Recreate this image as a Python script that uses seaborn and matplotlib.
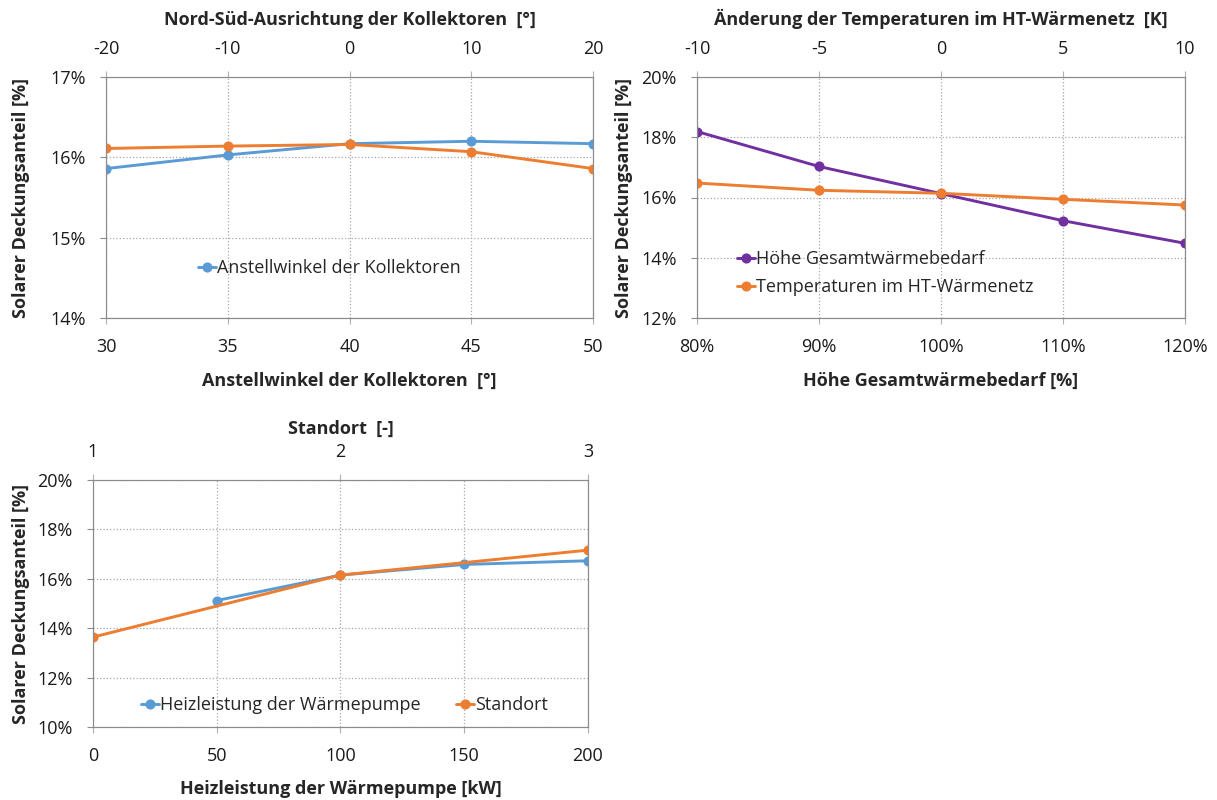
import numpy as np
import pandas as pd
import matplotlib
matplotlib.use('Agg')
import matplotlib.pyplot as plt
from matplotlib.ticker import PercentFormatter
from matplotlib.lines import Line2D
import seaborn as sns

# chart 1: Anstellwinkel (bottom axis) / Nord-Sued-Ausrichtung (top axis)
winkel = [30, 35, 40, 45, 50]
winkel_dg = [0.1586, 0.1603, 0.1617, 0.1620, 0.1617]
ausrichtung = [-20, -10, 0, 10, 20]
ausrichtung_dg = [0.1611, 0.1614, 0.1616, 0.1607, 0.1586]

# chart 2: Gesamtwaermebedarf (bottom) / Temperaturaenderung (top)
bedarf = [0.8, 0.9, 1.0, 1.1, 1.2]
bedarf_dg = [0.1819, 0.1703, 0.1613, 0.1523, 0.1448]
temp = [-10, -5, 0, 5, 10]
temp_dg = [0.1648, 0.1624, 0.1614, 0.1594, 0.1575]

# chart 3: Heizleistung (bottom) / Standort (top)
leistung = [50, 100, 150, 200]
leistung_dg = [0.1512, 0.1615, 0.1658, 0.1673]
leistung_ticks = [0, 50, 100, 150, 200]
standort = [1, 2, 3]
standort_dg = [0.1364, 0.1615, 0.1716]

blue = '#5B9BD5'
orange = '#ED7D31'
purple = '#7030A0'

sns.set_style('white')
plt.rcParams['font.family'] = ['Open Sans', 'DejaVu Sans']
plt.rcParams['axes.unicode_minus'] = False

fig = plt.figure(figsize=(12.17, 8), dpi=100)
ax1 = fig.add_axes([0.0871, 0.6025, 0.4002, 0.30125])
ax2 = fig.add_axes([0.5727, 0.6025, 0.4010, 0.30125])
ax3 = fig.add_axes([0.0764, 0.09125, 0.4067, 0.30875])

lkw = dict(marker='o', markersize=7.3, linewidth=2.1, markeredgewidth=0)
FS = 13


def style(ax, top, ylim, yticks, xlim, xticks, topticks, ylab_x):
    ax.set_ylim(*ylim)
    ax.set_yticks(yticks)
    ax.yaxis.set_major_formatter(PercentFormatter(xmax=1, decimals=0))
    ax.set_xlim(*xlim)
    ax.set_xticks(xticks)
    top.set_xlim(topticks[0], topticks[-1])
    top.set_xticks(topticks)
    ax.grid(True, color='#a8a8a8', linestyle=':', linewidth=0.9)
    for a in (ax, top):
        for s in a.spines.values():
            s.set_color('#8c8c8c')
        a.tick_params(colors='#1a1a1a', labelsize=FS, length=4.5, width=0.8)
        a.tick_params(axis='x', color='#b0b0b0', pad=9)
    ax.tick_params(axis='y', color='#8c8c8c', left=True, pad=10)
    ax.tick_params(axis='x', bottom=True, pad=10)
    top.tick_params(axis='x', top=True)
    ax.set_ylabel('Solarer Deckungsanteil [%]', fontweight='bold', fontsize=FS)
    ax.yaxis.set_label_coords(ylab_x, 0.5)


# ---- chart 1
t1 = ax1.twiny()
sns.lineplot(x=winkel, y=winkel_dg, ax=ax1, color=blue, **lkw)
sns.lineplot(x=ausrichtung, y=ausrichtung_dg, ax=t1, color=orange, **lkw)
style(ax1, t1, (0.14, 0.17), [0.14, 0.15, 0.16, 0.17], (30, 50), winkel, ausrichtung, -0.156)
ax1.set_xlabel('Anstellwinkel der Kollektoren  [°]', fontweight='bold', fontsize=FS, labelpad=11)
t1.set_xlabel('Nord-Süd-Ausrichtung der Kollektoren  [°]', fontweight='bold', fontsize=FS, labelpad=11)
t1.legend(handles=[Line2D([], [], color=blue, **lkw)], labels=['Anstellwinkel der Kollektoren'],
          loc='center', bbox_to_anchor=(0.458, 0.207), frameon=False, fontsize=FS,
          handlelength=1.0, handletextpad=0.05, borderpad=0, borderaxespad=0)

# ---- chart 2
t2 = ax2.twiny()
sns.lineplot(x=bedarf, y=bedarf_dg, ax=ax2, color=purple, **lkw)
sns.lineplot(x=temp, y=temp_dg, ax=t2, color=orange, **lkw)
style(ax2, t2, (0.12, 0.20), [0.12, 0.14, 0.16, 0.18, 0.20], (0.8, 1.2), bedarf, temp, -0.131)
ax2.xaxis.set_major_formatter(PercentFormatter(xmax=1, decimals=0))
ax2.set_xlabel('Höhe Gesamtwärmebedarf [%]', fontweight='bold', fontsize=FS, labelpad=11)
t2.set_xlabel('Änderung der Temperaturen im HT-Wärmenetz  [K]', fontweight='bold', fontsize=FS, labelpad=11)
t2.legend(handles=[Line2D([], [], color=purple, **lkw), Line2D([], [], color=orange, **lkw)],
          labels=['Höhe Gesamtwärmebedarf', 'Temperaturen im HT-Wärmenetz'],
          loc='center left', bbox_to_anchor=(0.082, 0.187), frameon=False, fontsize=FS,
          handlelength=1.0, handletextpad=0.05, labelspacing=0.55, borderpad=0, borderaxespad=0)

# ---- chart 3
t3 = ax3.twiny()
sns.lineplot(x=leistung, y=leistung_dg, ax=ax3, color=blue, **lkw)
sns.lineplot(x=standort, y=standort_dg, ax=t3, color=orange, **lkw)
style(ax3, t3, (0.10, 0.20), [0.10, 0.12, 0.14, 0.16, 0.18, 0.20], (0, 200), leistung_ticks, standort, -0.127)
ax3.set_xlabel('Heizleistung der Wärmepumpe [kW]', fontweight='bold', fontsize=FS, labelpad=11)
t3.set_xlabel('Standort  [-]', fontweight='bold', fontsize=FS, labelpad=7)
t3.legend(handles=[Line2D([], [], color=blue, **lkw), Line2D([], [], color=orange, **lkw)],
          labels=['Heizleistung der Wärmepumpe', 'Standort'],
          loc='center', bbox_to_anchor=(0.508, 0.089), frameon=False, fontsize=FS, ncol=2,
          handlelength=1.0, handletextpad=0.05, columnspacing=2.0, borderpad=0, borderaxespad=0)

fig.savefig('out.png', dpi=100)
